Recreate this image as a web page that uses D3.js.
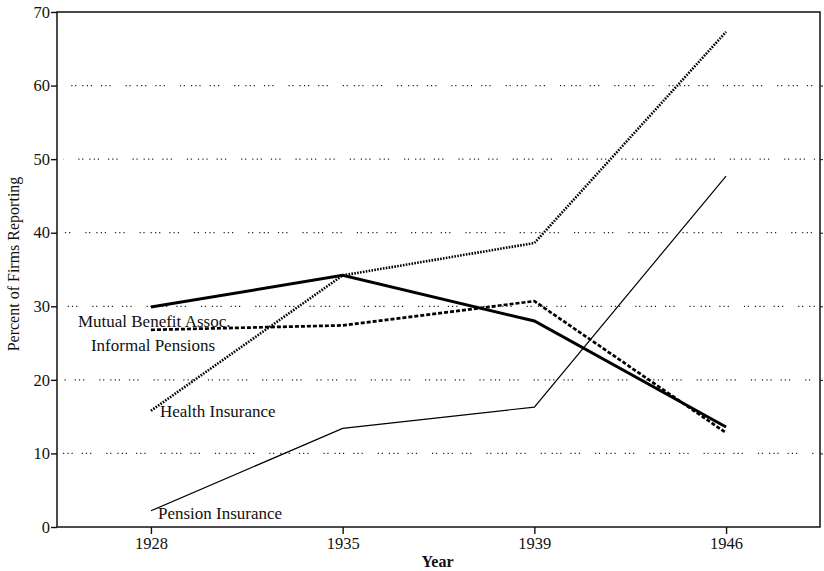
<!DOCTYPE html>
<html>
<head>
<meta charset="utf-8">
<script src="https://cdn.jsdelivr.net/npm/d3@7"></script>
<style>
  body { margin: 0; background: #fff; }
  svg text { font-family: "Liberation Serif", "DejaVu Serif", serif; fill: #111; }
</style>
</head>
<body>
<svg id="chart" width="824" height="571"></svg>
<script>
const years = ["1928", "1935", "1939", "1946"];
const yTicks = [0, 10, 20, 30, 40, 50, 60, 70];
const gridValues = [10, 20, 30, 40, 50, 60];

const healthInsurance = [15.8, 34.2, 38.6, 67.3];
const mutualBenefit = [29.9, 34.2, 28.0, 13.6];
const informalPensions = [26.8, 27.4, 30.7, 12.8];
const pensionInsurance = [2.2, 13.4, 16.3, 47.7];

const seriesNames = ["Health Insurance", "Mutual Benefit Assoc.", "Informal Pensions", "Pension Insurance"];
const seriesValues = [healthInsurance, mutualBenefit, informalPensions, pensionInsurance];

// line styles, same order as seriesNames
const styles = [
  { w: 2.6, dash: "1.6,1.3" },
  { w: 3, dash: null },
  { w: 2.7, dash: "4,2" },
  { w: 1.2, dash: null }
];
// label offsets from the first point
const labelPos = [
  { dx: 9, dy: 6 },
  { dx: -73, dy: 20 },
  { dx: -60, dy: 21 },
  { dx: 7, dy: 8 }
];

const L = 57, R = 820, T = 12, B = 527;
const svg = d3.select("#chart");

const x = d3.scalePoint().domain(years).range([L, R]).padding(0.49);
const y = d3.scaleLinear().domain([0, 70]).range([B, T]);

// Dotted gridlines (irregular, like the printed original)
const gridDash = "1.2,3.3,1.2,2.8,1.2,9,1.2,3,1.2,3,1.2,15,1.2,2.6,1.2,6";
svg.append("g").selectAll("line").data(gridValues).join("line")
  .attr("x1", L + 6).attr("x2", R - 5)
  .attr("y1", d => y(d)).attr("y2", d => y(d))
  .attr("stroke", "#222").attr("stroke-width", 1.3)
  .attr("stroke-dasharray", gridDash)
  .attr("stroke-dashoffset", (d, i) => i * 7);

// Frame
svg.append("rect").attr("x", L).attr("y", T).attr("width", R - L).attr("height", B - T)
  .attr("fill", "none").attr("stroke", "#111").attr("stroke-width", 1.5);

// Axes
const yAxis = svg.append("g").attr("transform", `translate(${L},0)`)
  .call(d3.axisLeft(y).tickValues(yTicks).tickSize(6).tickPadding(1));
const xAxis = svg.append("g").attr("transform", `translate(0,${B})`)
  .call(d3.axisBottom(x).tickSize(7).tickPadding(3));
svg.append("g").attr("transform", `translate(${R},0)`)
  .call(d3.axisRight(y).tickValues(gridValues).tickSize(3).tickFormat(""));
for (const g of [yAxis, xAxis]) {
  g.selectAll("line").attr("stroke-width", 1.4);
  g.selectAll("text").attr("font-size", 16.5).attr("fill", "#111")
    .style("font-family", "'Liberation Serif', serif");
}
svg.selectAll(".tick line").attr("stroke", "#111");
svg.selectAll(".domain").remove();

// Series lines with their labels
const line = d3.line().x((d, i) => x(years[i])).y(d => y(d));
seriesValues.forEach((vals, k) => {
  svg.append("path").datum(vals)
    .attr("d", line)
    .attr("fill", "none").attr("stroke", "#000")
    .attr("stroke-width", styles[k].w)
    .attr("stroke-dasharray", styles[k].dash)
    .attr("stroke-linejoin", "miter");
  svg.append("text")
    .attr("x", x(years[0]) + labelPos[k].dx)
    .attr("y", y(vals[0]) + labelPos[k].dy)
    .attr("font-size", 17)
    .text(seriesNames[k]);
});

// Axis titles
svg.append("text").attr("x", (L + R) / 2 - 1).attr("y", 567)
  .attr("text-anchor", "middle").attr("font-size", 16).attr("font-weight", "bold")
  .text("Year");
svg.append("text").attr("transform", `translate(19,264) rotate(-90)`)
  .attr("text-anchor", "middle").attr("font-size", 16)
  .text("Percent of Firms Reporting");
</script>
</body>
</html>
